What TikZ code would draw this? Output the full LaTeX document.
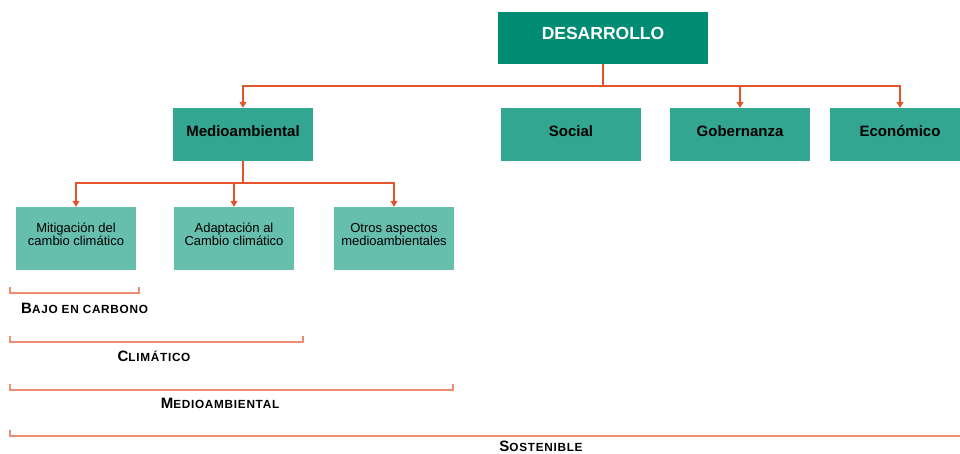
\documentclass[tikz,border=0pt]{standalone}
\usepackage{fontspec}
\setmainfont{Liberation Sans}
\usetikzlibrary{arrows.meta}
\definecolor{deepteal}{HTML}{008C72}
\definecolor{midteal}{HTML}{33A692}
\definecolor{lightteal}{HTML}{66BEAD}
\definecolor{linkorange}{HTML}{E2552C}
\definecolor{braceorange}{HTML}{EE8C73}
\newcommand{\fakesc}[2]{{\addfontfeatures{LetterSpace=6}\fontsize{15}{15}\selectfont #1%
  \fontsize{11.8}{12}\selectfont #2}}
\tikzset{
  topbox/.style={fill=deepteal,text=white,font=\bfseries\fontsize{17.5}{17}\selectfont,
    minimum width=210pt,minimum height=52pt,inner sep=0pt,text depth=9.4pt},
  midbox/.style={fill=midteal,text=black,font=\bfseries\fontsize{15}{15}\selectfont,
    minimum width=140pt,minimum height=53pt,inner sep=0pt,text depth=7pt},
  subbox/.style={fill=lightteal,text=black,font=\fontsize{13}{13}\selectfont,
    minimum width=120pt,minimum height=63pt,inner sep=0pt,align=center,text depth=8pt},
  link/.style={draw=linkorange,line width=1.2pt},
  arrlink/.style={link,-{Triangle[width=7pt,length=6pt]}},
  bracket/.style={draw=braceorange,line width=1.2pt},
  tag/.style={font=\bfseries,inner sep=0pt}
}
\begin{document}
\begin{tikzpicture}[x=1pt,y=-1pt]
  \useasboundingbox (0,0) rectangle (960,454);
  % boxes
  \node[topbox] (des) at (603,38) {DESARROLLO};
  %
  \node[midbox] (med) at (243,134.5) {Medioambiental};
  \node[midbox] (soc) at (571,134.5) {Social};
  \node[midbox] (gob) at (740,134.5) {Gobernanza};
  \node[midbox] (eco) at (900,134.5) {Económico};
  %
  \node[subbox] (mit) at (76,238.5)  {Mitigación del\\cambio climático};
  \node[subbox] (ada) at (234,238.5) {Adaptación al\\Cambio climático};
  \node[subbox] (otr) at (394,238.5) {Otros aspectos\\medioambientales};
  % connectors
  \coordinate (hubA) at (603,86);
  \coordinate (hubB) at (243,183);
  \draw[link] (des.south) -- (hubA);
  \draw[arrlink] (hubA) -| (med.north);
  \draw[arrlink] (hubA) -| (gob.north);
  \draw[arrlink] (hubA) -| (eco.north);
  %
  \draw[link] (med.south) -- (hubB);
  \draw[arrlink] (hubB) -| (mit.north);
  \draw[arrlink] (hubB) -| (ada.north);
  \draw[arrlink] (hubB) -| (otr.north);
  % brackets
  \draw[bracket] (10,287) -- (10,293) -- (139,293) -- (139,287);
  \node[tag,anchor=west] (bajo) at (21,308) {\fakesc{B}{AJO EN CARBONO}};
  \draw[bracket] (10,336) -- (10,342) -- (303,342) -- (303,336);
  \node[tag] (clim) at (154,356) {\fakesc{C}{LIMÁTICO}};
  \draw[bracket] (10,384) -- (10,390) -- (453,390) -- (453,384);
  \node[tag] (mamb) at (220,403) {\fakesc{M}{EDIOAMBIENTAL}};
  \draw[bracket] (10,430) -- (10,436) -- (970,436);
  \node[tag] (sost) at (541,446) {\fakesc{S}{OSTENIBLE}};
\end{tikzpicture}
\end{document}
